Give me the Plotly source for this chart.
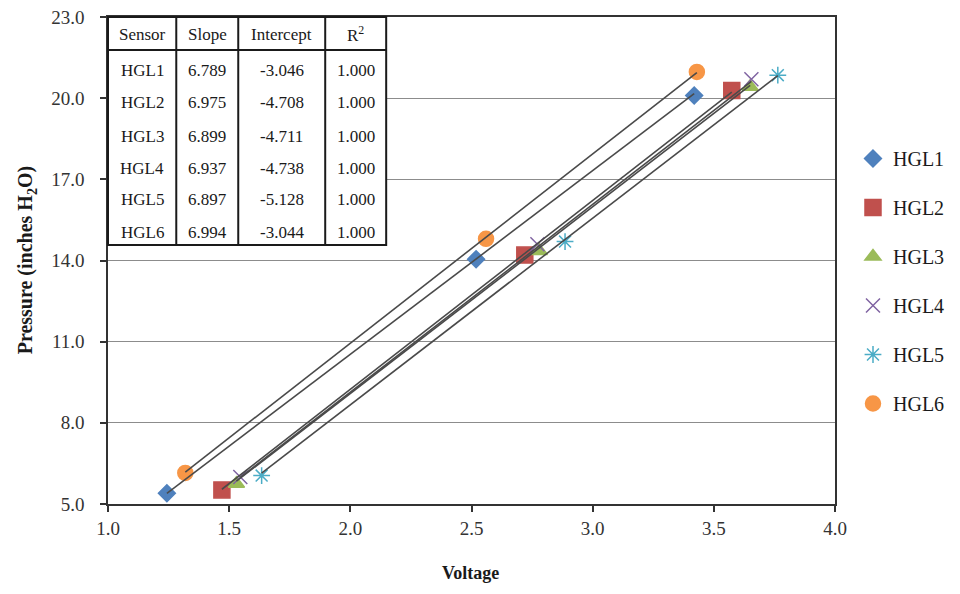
import plotly.graph_objects as go

# ---- data ----
sensors = ["HGL1", "HGL2", "HGL3", "HGL4", "HGL5", "HGL6"]
voltage = {
    "HGL1": [1.243, 2.519, 3.419],
    "HGL2": [1.470, 2.720, 3.574],
    "HGL3": [1.530, 2.780, 3.650],
    "HGL4": [1.546, 2.772, 3.655],
    "HGL5": [1.634, 2.886, 3.764],
    "HGL6": [1.319, 2.560, 3.430],
}
pressure = {
    "HGL1": [5.40, 14.05, 20.10],
    "HGL2": [5.52, 14.20, 20.28],
    "HGL3": [5.75, 14.35, 20.42],
    "HGL4": [6.00, 14.60, 20.70],
    "HGL5": [6.05, 14.70, 20.85],
    "HGL6": [6.15, 14.80, 20.97],
}
slopes = [6.789, 6.975, 6.899, 6.937, 6.897, 6.994]
intercepts = [-3.046, -4.708, -4.711, -4.738, -5.128, -3.044]
r2 = [1.000, 1.000, 1.000, 1.000, 1.000, 1.000]
table_headers = ["Sensor", "Slope", "Intercept", "R<sup>2</sup>"]
x_ticks = [1.0, 1.5, 2.0, 2.5, 3.0, 3.5, 4.0]
y_ticks = [5.0, 8.0, 11.0, 14.0, 17.0, 20.0, 23.0]
x_title = "<b>Voltage</b>"
y_title = "<b>Pressure (inches H<sub>2</sub>O)</b>"

# ---- styles ----
colors = ["#4F81BD", "#C0504D", "#9BBB59", "#8064A2", "#4BACC6", "#F79646"]
symbols = ["diamond", "square", "triangle-up", "x-thin-open", "asterisk-open", "circle"]
sizes = [13, 16, 14, 14, 14, 15]
FONT = "Times New Roman, Liberation Serif, serif"

# screen geometry (page body has an 8px margin)
SW, SH, OFF = 960, 594, 8
FW, FH = SW - 2 * OFF, SH - 2 * OFF
# plot area in screen pixels
L, R, T, B = 107.7, 835.0, 17.0, 504.0


def px(xp):
    return (xp - L) / (R - L)


def py(yp):
    return (B - yp) / (B - T)


fig = go.Figure()

for i, s in enumerate(sensors):
    fig.add_trace(go.Scatter(
        x=voltage[s], y=pressure[s], mode="markers", name=s,
        legendgroup=s,
        marker=dict(symbol=symbols[i], size=sizes[i], color=colors[i],
                    line=dict(color=colors[i], width=1.5)),
    ))

# trendlines (drawn above markers)
for i, s in enumerate(sensors):
    xs = [min(voltage[s]), max(voltage[s])]
    ys = [slopes[i] * v + intercepts[i] for v in xs]
    fig.add_trace(go.Scatter(
        x=xs, y=ys, mode="lines", showlegend=False, hoverinfo="skip",
        line=dict(color="#4a4a4a", width=1.6),
    ))

# ---- table (shapes + annotations) ----
tx0, tx1, ty0, ty1 = 107.7, 386.0, 17.0, 245.0
col_edges = [tx0, 176.0, 238.0, 325.0, tx1]
header_line = 50.0
header_y = 34.0
row_y = [70.0, 103.0, 136.0, 168.5, 200.0, 232.0]

shapes = [
    dict(type="rect", xref="paper", yref="paper",
         x0=px(tx0), x1=px(tx1), y0=py(ty1), y1=py(ty0),
         fillcolor="white", line=dict(color="#1a1a1a", width=2), layer="above"),
    dict(type="line", xref="paper", yref="paper",
         x0=px(tx0), x1=px(tx1), y0=py(header_line), y1=py(header_line),
         line=dict(color="#1a1a1a", width=2), layer="above"),
]
for xe in col_edges[1:-1]:
    shapes.append(dict(type="line", xref="paper", yref="paper",
                       x0=px(xe), x1=px(xe), y0=py(ty1), y1=py(ty0),
                       line=dict(color="#1a1a1a", width=2), layer="above"))

TBL = 17
annotations = []
centers = [(col_edges[k] + col_edges[k + 1]) / 2 for k in range(4)]
for k, h in enumerate(table_headers):
    annotations.append(dict(xref="paper", yref="paper", x=px(centers[k]), y=py(header_y),
                            text=h, showarrow=False, xanchor="center", yanchor="middle",
                            font=dict(family=FONT, size=TBL, color="#1a1a1a")))
for r, s in enumerate(sensors):
    vals = [s, f"{slopes[r]:.3f}", f"{intercepts[r]:.3f}", f"{r2[r]:.3f}"]
    for k, v in enumerate(vals):
        annotations.append(dict(xref="paper", yref="paper", x=px(centers[k]), y=py(row_y[r]),
                                text=v, showarrow=False, xanchor="center", yanchor="middle",
                                font=dict(family=FONT, size=TBL, color="#1a1a1a")))

# axis titles
annotations.append(dict(xref="paper", yref="paper", x=px(470), y=py(573),
                        text=x_title, showarrow=False, xanchor="center", yanchor="middle",
                        font=dict(family=FONT, size=18, color="#1a1a1a")))
annotations.append(dict(xref="paper", yref="paper", x=px(26), y=py(260),
                        text=y_title, showarrow=False, xanchor="center", yanchor="middle",
                        textangle=-90,
                        font=dict(family=FONT, size=20, color="#1a1a1a")))

fig.update_layout(
    width=FW, height=FH,
    margin=dict(l=L - OFF, r=SW - OFF - R, t=T - OFF, b=SH - OFF - B, autoexpand=False),
    paper_bgcolor="white", plot_bgcolor="white",
    font=dict(family=FONT, size=18, color="#262626"),
    shapes=shapes, annotations=annotations,
    legend=dict(x=px(853), y=py(139), xanchor="left", yanchor="top",
                font=dict(family=FONT, size=20, color="#1a1a1a"),
                tracegroupgap=20, itemwidth=30, bgcolor="rgba(0,0,0,0)"),
    xaxis=dict(range=[1.0, 4.0], tickvals=x_ticks, tickformat=".1f", automargin=False,
               showgrid=False, zeroline=False, showline=True, mirror=True,
               linecolor="#333333", linewidth=1.5, ticks="outside", ticklen=6,
               tickcolor="#333333", tickwidth=1.5, ticklabeloverflow="allow",
               tickfont=dict(family=FONT, size=19, color="#333333")),
    yaxis=dict(range=[5.0, 23.0], tickvals=y_ticks, tickformat=".1f", automargin=False,
               showgrid=True, gridcolor="#8c8c8c", gridwidth=1, zeroline=False,
               showline=True, mirror=True,
               linecolor="#333333", linewidth=1.5, ticks="outside", ticklen=6,
               tickcolor="#333333", tickwidth=1.5, ticklabelstandoff=12,
               ticklabeloverflow="allow",
               tickfont=dict(family=FONT, size=19, color="#333333")),
)

fig.write_html("out.html")
